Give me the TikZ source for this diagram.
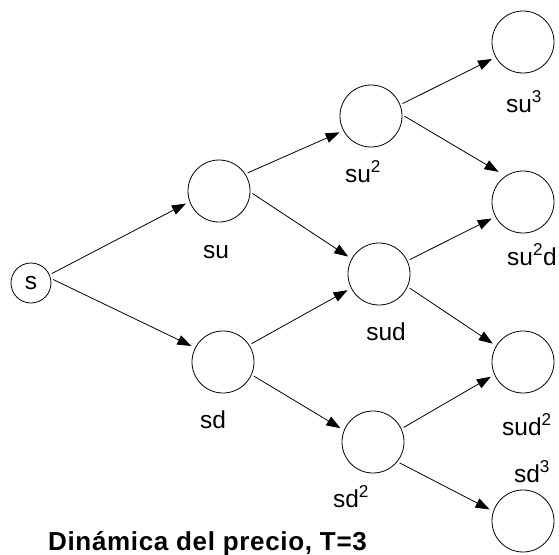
\documentclass[tikz,border=0pt]{standalone}
\usepackage{fontspec}
\setmainfont{Liberation Sans}
\usetikzlibrary{arrows.meta}
\begin{document}
\begin{tikzpicture}[x=1pt,y=-1pt,
        estado/.style={circle, draw, line width=0.8pt, minimum size=62pt, inner sep=0pt},
        etiqueta/.style={anchor=base, inner sep=0pt, font=\fontsize{24.5}{29}\selectfont},
        flecha/.style={line width=0.8pt, -{Triangle[length=14pt,width=10pt]}, shorten <=2.5pt, shorten >=4pt}]
        \useasboundingbox (0,0) rectangle (559,554);

        % arbol de estados
        \node[estado, minimum size=40pt, font=\fontsize{24.5}{29}\selectfont] (s) at (31,283) {s};
        \node[estado] (su) at (219,191) {};
        \node[estado] (sd) at (223,362) {};
        \node[estado] (suu) at (371,116) {};
        \node[estado] (sud) at (379,274) {};
        \node[estado] (sdd) at (373,442) {};
        \node[estado] (suuu) at (523,42) {};
        \node[estado] (suud) at (523,202) {};
        \node[estado] (sudd) at (523,362) {};
        \node[estado] (sddd) at (523,521) {};

        \draw[flecha] (s.24) -- (su.-160);
        \draw[flecha] (s.13) -- (sd.153);
        \draw[flecha] (su.33) -- (suu.-152);
        \draw[flecha] (su.-2) -- (sud.151);
        \draw[flecha] (sd.33) -- (sud.-153);
        \draw[flecha] (sd.-24) -- (sdd.158);
        \draw[flecha] (suu.21) -- (suuu.-151);
        \draw[flecha, shorten >=8pt] (suu.2) -- (suud.124);
        \draw[flecha] (sud.25) -- (suud.-152);
        \draw[flecha] (sud.-24) -- (sudd.149);
        \draw[flecha] (sdd.25) -- (sudd.-156);
        \draw[flecha] (sdd.-39) -- (sddd.162);

        % etiquetas
        \node[etiqueta] (l-su) at (216,258) {su};
        \node[etiqueta] (l-sd) at (213,428) {sd};
        \node[etiqueta] (l-suu) at (363,182) {su\textsuperscript{2}};
        \node[etiqueta] (l-sud) at (386,340) {sud};
        \node[etiqueta] (l-sdd) at (351,507) {sd\textsuperscript{2}};
        \node[etiqueta] (l-suuu) at (524,112) {su\textsuperscript{3}};
        \node[etiqueta] (l-suud) at (532,265) {su\textsuperscript{2}d};
        \node[etiqueta] (l-sudd) at (527,435) {sud\textsuperscript{2}};
        \node[etiqueta] (l-sddd) at (532,482) {sd\textsuperscript{3}};

        \node[anchor=base, inner sep=0pt, font=\bfseries\fontsize{26}{31}\selectfont\addfontfeature{LetterSpace=2.5}] (titulo) at (207.5,550) {Dinámica del precio, T=3};
    \end{tikzpicture}
\end{document}
